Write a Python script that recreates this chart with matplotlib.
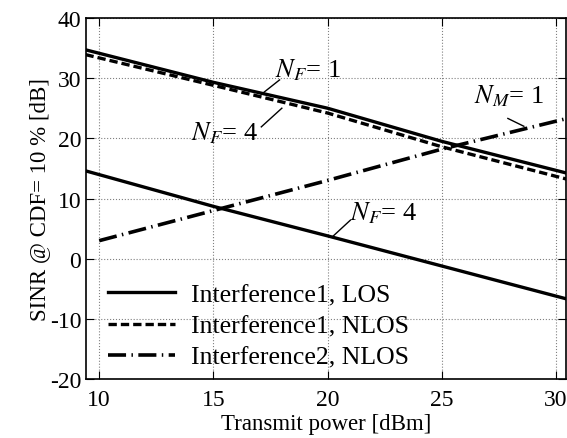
import matplotlib
matplotlib.use('Agg')
import matplotlib.pyplot as plt

plt.rcParams['font.family'] = ['Liberation Serif', 'DejaVu Serif']
plt.rcParams['mathtext.fontset'] = 'stix'
plt.rcParams['axes.unicode_minus'] = False

# data
power = [9.4, 15, 20, 25, 30.5]
los_nf1 = [34.7, 29.3, 25.0, 19.5, 14.2]
nlos_nf4 = [33.9, 28.8, 24.2, 18.6, 13.2]
los_nf4 = [14.6, 8.7, 3.8, -1.2, -6.7]
power2 = [10, 15, 20, 25, 30.5]
nlos_nm1 = [3.0, 8.0, 13.0, 18.2, 23.3]

fig = plt.figure(figsize=(5.67, 4.39), dpi=100)
ax = fig.add_axes([0.152, 0.134, 0.846, 0.823])

ax.plot(power, los_nf1, color='black', lw=2.4, ls='-', label='Interference1, LOS')
ax.plot(power, nlos_nf4, color='black', lw=2.4, ls=(0, (2.5, 1.2)), label='Interference1, NLOS')
ax.plot(power, los_nf4, color='black', lw=2.4, ls='-')
ax.plot(power2, nlos_nm1, color='black', lw=2.6, ls=(0, (5, 1.5, 0.4, 1.5)),
        label='Interference2, NLOS')

# leader lines + labels
ax.plot([17.1, 17.9], [27.3, 29.7], color='black', lw=1)
ax.text(17.7, 31.4, '$N_F$= 1', fontsize=19, va='center')
ax.plot([18.0, 17.1], [25.0, 21.9], color='black', lw=1)
ax.text(14.0, 21.0, '$N_F$= 4', fontsize=19, va='center')
ax.plot([28.6, 27.9], [22.0, 23.3], color='black', lw=1)
ax.text(26.4, 27.2, '$N_M$= 1', fontsize=19, va='center')
ax.plot([20.2, 21.0], [3.6, 6.4], color='black', lw=1)
ax.text(21.0, 7.8, '$N_F$= 4', fontsize=19, va='center')

ax.set_xlim(9.43, 30.44)
ax.set_ylim(-20, 40)
ax.set_xticks([10, 15, 20, 25, 30])
ax.set_yticks([-20, -10, 0, 10, 20, 30, 40])
ax.grid(True, ls=':', color='gray', lw=0.8)
ax.tick_params(direction='in', top=True, right=True, length=6, labelsize=17)
ax.tick_params(axis='x', pad=7)
for s in ax.spines.values():
    s.set_linewidth(1.2)

ax.set_xlabel('Transmit power [dBm]', fontsize=16.5, labelpad=2)
ax.set_ylabel('SINR @ CDF= 10 % [dB]', fontsize=16.5, labelpad=0)

ax.legend(loc='lower left', bbox_to_anchor=(0.025, 0.0), frameon=False,
          fontsize=18.5, handlelength=2.6, handletextpad=0.6,
          labelspacing=0.32, borderaxespad=0.1, borderpad=0.3)

fig.savefig('out.png', dpi=100)
